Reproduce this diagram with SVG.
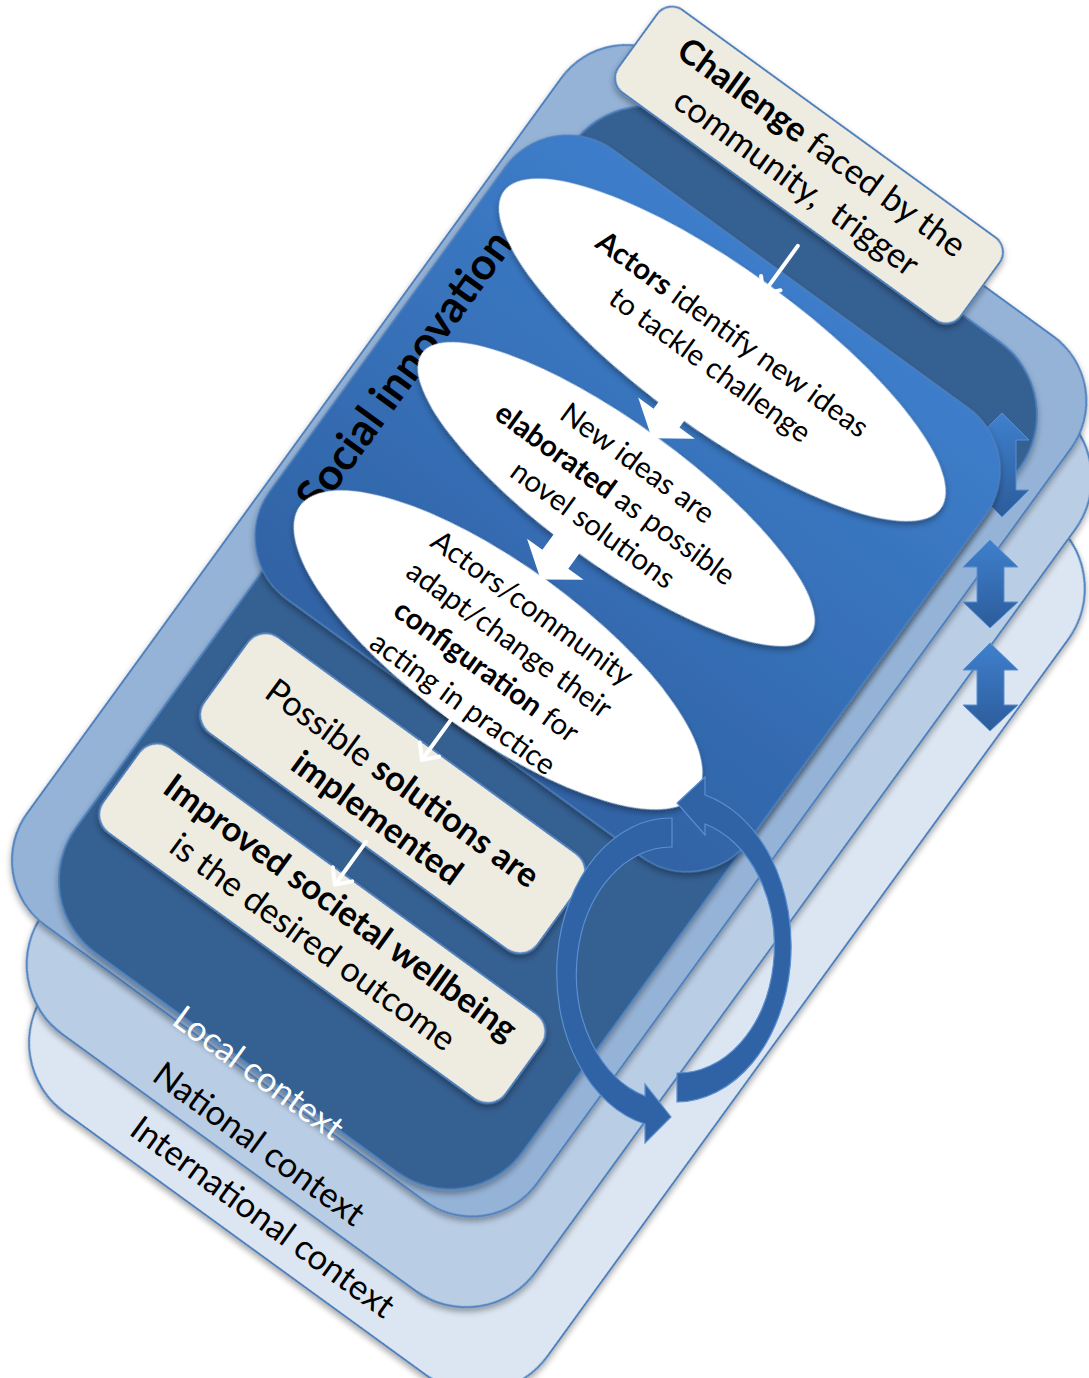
<svg xmlns="http://www.w3.org/2000/svg" width="1089" height="1378" viewBox="0 0 1089 1378">
<defs>
<style>
.lay{stroke:#4f81bd;stroke-width:2}
.box{fill:#eeece1;stroke:#4f81bd;stroke-width:2}
.ell{fill:#fff}
.t{font-family:Lato,"Open Sans","Liberation Sans",sans-serif;font-size:29.5px;fill:#000;text-anchor:middle}
.bx{font-size:34.5px}
.b{font-weight:bold}
.ctx{font-size:34.5px}
.si{font-size:44px;font-weight:bold}
.wa{stroke:#fff;stroke-width:4;fill:none;stroke-linecap:round;stroke-linejoin:round}
.da{fill:url(#gDA);stroke:#5b8fd0;stroke-width:1}
.ca{fill:#2f63a6;stroke:#5b8fd0;stroke-width:1.2}
</style>
<linearGradient id="gE" x1="0" y1="0" x2="0" y2="1">
<stop offset="0" stop-color="#3d7dca"/><stop offset="1" stop-color="#3063a5"/>
</linearGradient>
<linearGradient id="gDA" x1="0" y1="0" x2="0" y2="1">
<stop offset="0" stop-color="#3f80cd"/><stop offset="1" stop-color="#2c5c9b"/>
</linearGradient>
<filter id="sh" x="-10%" y="-10%" width="120%" height="120%">
<feDropShadow dx="2" dy="3" stdDeviation="3" flood-color="#000" flood-opacity="0.35"/>
</filter>
</defs>

<g transform="rotate(36)">
<g id="international-layer"><rect class="lay" x="620" y="-197" width="620" height="1059" rx="86" fill="#dce6f2" filter="url(#sh)"/></g>
<g id="national-layer"><rect class="lay" x="572" y="-290" width="609" height="1090" rx="86" fill="#b9cde5" filter="url(#sh)"/></g>
<g id="local-layer"><rect class="lay" x="500" y="-347" width="630" height="1069" rx="80" fill="#95b3d7" filter="url(#sh)"/></g>
<g id="local-core"><rect class="lay" x="548" y="-311" width="552" height="1026" rx="90" fill="#366092" filter="url(#sh)"/></g>
</g>

<g id="double-arrow-1"><path class="da" d="M1002,413 L1029,440 L1016,440 L1016,490 L1029,490 L1002,517 L975,490 L988,490 L988,440 L975,440 Z"/></g>

<g transform="rotate(36)">
<g id="social-innovation">
<rect x="507" y="-239" width="593" height="555" rx="77" fill="url(#gE)" stroke="#4f81bd" stroke-width="1.5" filter="url(#sh)"/>
<text class="t si" transform="translate(560,62) rotate(-90)">Social innovation</text>
</g>
<g id="actors-identify"><ellipse class="ell" cx="790" cy="-141.5" rx="270" ry="80" filter="url(#sh)"/></g>
<g id="ideas-elaborated"><ellipse class="ell" cx="789" cy="37.5" rx="240" ry="70" filter="url(#sh)"/></g>
<g id="actors-adapt"><ellipse class="ell" cx="785" cy="233" rx="245" ry="85" filter="url(#sh)"/></g>
<g id="challenge"><rect class="box" x="540" y="-393" width="423" height="102" rx="18" filter="url(#sh)"/></g>
<g id="solutions-implemented"><rect class="box" x="578" y="352" width="412" height="118" rx="22" filter="url(#sh)"/></g>
<g id="improved-wellbeing"><rect class="box" x="555" y="505" width="497" height="105" rx="22" filter="url(#sh)"/></g>

<g id="connectors">
<path fill="#fff" d="M769,-100 L801,-100 L801,-53.5 L820,-53.5 L785,-28.5 L750,-53.5 L769,-53.5 Z"/>
<path fill="#fff" d="M762,90 L794,90 L794,126 L813,126 L778,151 L743,126 L762,126 Z"/>
<path class="wa" d="M790,-270 L790,-212 M778,-224 L790,-211 L802,-224"/>
<path class="wa" d="M788,318 L788,366 M776,354 L788,367 L800,354"/>
<path class="wa" d="M791,466 L791,518 M779,506 L791,519 L803,506"/>
</g>

<g id="labels">
<text class="t bx" x="751.5" y="-352"><tspan class="b">Challenge</tspan> faced by the</text>
<text class="t bx" x="751.5" y="-309">community,&#160; trigger</text>
<text class="t" x="789" y="-150"><tspan class="b">Actors</tspan> identify new ideas</text>
<text class="t" x="789" y="-112">to tackle challenge</text>
<text class="t" x="788" y="10">New ideas are</text>
<text class="t" x="788" y="48"><tspan class="b">elaborated</tspan> as possible</text>
<text class="t" x="788" y="86">novel solutions</text>
<text class="t" x="788" y="189">Actors/community</text>
<text class="t" x="788" y="228">adapt/change their</text>
<text class="t" x="788" y="267"><tspan class="b">configuration</tspan> for</text>
<text class="t" x="788" y="307">acting in practice</text>
<text class="t bx" x="786" y="409">Possible <tspan class="b">solutions are</tspan></text>
<text class="t bx b" x="786" y="452">implemented</text>
<text class="t bx b" x="809" y="546">Improved societal wellbeing</text>
<text class="t bx" x="807" y="590">is the desired outcome</text>
<text class="t ctx" x="840" y="728" style="fill:#fff">Local context</text>
<text class="t ctx" x="882" y="785">National context</text>
<text class="t ctx" x="928" y="842">International context</text>
</g>
</g>

<g id="cycle-arrows">
<path class="ca" d="M672,818 A114 155 0 0 0 645,1124 L645,1143 L671,1117 L645,1084 L645,1096 A95 127 0 0 1 672,847 Z"/>
<path class="ca" d="M677,1102 A115 156 0 0 0 705,795 L705,777 L677,803 L705,835 L705,824 A96 127 0 0 1 677,1073 Z"/>
</g>

<g id="double-arrow-2"><path class="da" d="M990,540 L1018,567 L1004,567 L1004,602 L1018,602 L990,628 L963,602 L977,602 L977,567 L963,567 Z"/></g>
<g id="double-arrow-3"><path class="da" d="M990,643 L1018,670 L1004,670 L1004,705 L1018,705 L990,731 L963,705 L977,705 L977,670 L963,670 Z"/></g>
</svg>
